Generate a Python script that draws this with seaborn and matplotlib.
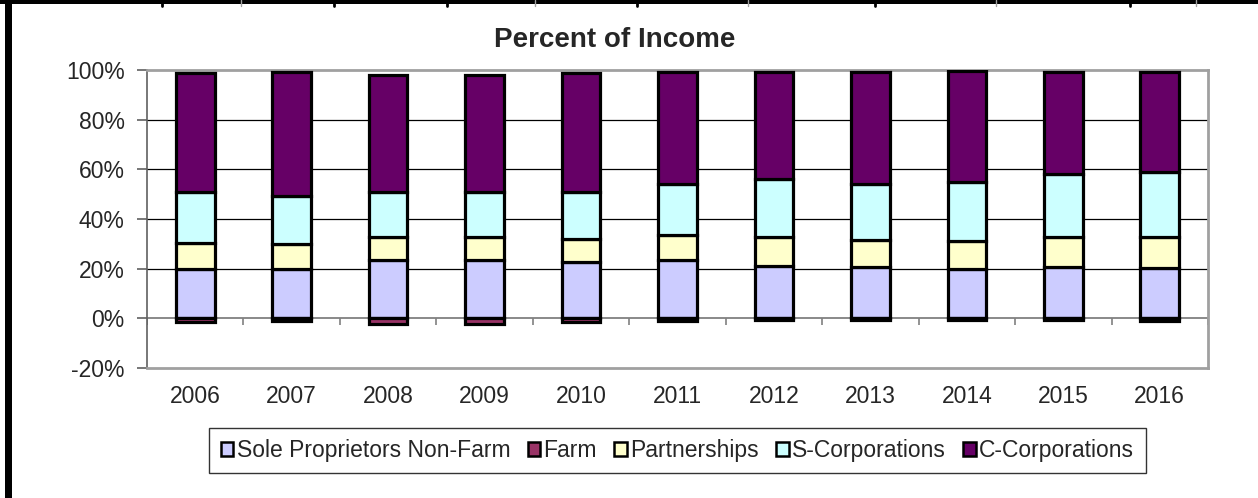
import numpy as np
import pandas as pd
import seaborn as sns
import matplotlib
matplotlib.use("Agg")
import matplotlib.pyplot as plt
from matplotlib.patches import Rectangle
from matplotlib.lines import Line2D

# ---------------- data ----------------
years = ["2006", "2007", "2008", "2009", "2010", "2011", "2012", "2013", "2014", "2015", "2016"]
sole_prop = [20.0, 20.0, 23.3, 23.3, 22.5, 23.3, 21.0, 20.5, 19.7, 20.5, 20.1]
farm = [-1.3, -1.2, -2.1, -2.1, -1.4, -1.2, -0.7, -0.7, -0.6, -0.8, -0.9]
partnerships = [10.5, 10.1, 9.3, 9.3, 9.3, 10.1, 11.6, 10.9, 11.3, 12.1, 12.5]
s_corps = [20.4, 19.0, 18.1, 18.1, 18.9, 20.5, 23.4, 22.5, 23.7, 25.4, 26.5]
c_corps = [47.9, 50.0, 47.1, 47.1, 48.0, 45.1, 43.2, 45.3, 44.7, 41.2, 40.1]
series_names = ["Sole Proprietors Non-Farm", "Farm", "Partnerships", "S-Corporations", "C-Corporations"]
colors = ["#CCCCFF", "#993366", "#FFFFCC", "#CCFFFF", "#660066"]
y_ticks = [-20, 0, 20, 40, 60, 80, 100]
title = "Percent of Income"

# ---------------- style ----------------
sns.set_theme(style="white")
plt.rcParams["font.family"] = ["Liberation Sans", "DejaVu Sans"]

fig = plt.figure(figsize=(12.58, 4.98), dpi=100)
W, H = 1258, 498
ax = fig.add_axes([147 / W, 1 - 368 / H, (1208 - 147) / W, (368 - 70) / H])

df = pd.DataFrame({"year": years, "sole": sole_prop, "farm": farm,
                   "part": partnerships, "s": s_corps, "c": c_corps})
b_part = np.array(sole_prop)
b_s = b_part + np.array(partnerships)
b_c = b_s + np.array(s_corps)

layers = [("sole", np.zeros(len(years))), ("farm", np.zeros(len(years))),
          ("part", b_part), ("s", b_s), ("c", b_c)]
for (col, bottom), name, colr in zip(layers, series_names, colors):
    sns.barplot(data=df, x="year", y=col, bottom=bottom, color=colr,
                edgecolor="black", linewidth=2.3, width=0.4, ax=ax,
                label=name, zorder=3, saturation=1)
if ax.get_legend() is not None:
    ax.get_legend().remove()

ax.set_xlim(-0.5, len(years) - 0.5)
ax.set_ylim(-20, 100)
ax.set_yticks(y_ticks)
ax.set_yticklabels([f"{t}%" for t in y_ticks])
ax.set_xlabel("")
ax.set_ylabel("")

# gridlines
for t in [20, 40, 60, 80]:
    ax.axhline(t, color="black", lw=0.9, zorder=1)
ax.axhline(0, color="#808080", lw=1.3, zorder=2)
# category-boundary ticks on the zero axis
ax.vlines(np.arange(-0.5, len(years)), -2.8, 0, color="#808080", lw=1.2, zorder=2)

for side in ["top", "right", "bottom"]:
    ax.spines[side].set_color("#A0A0A0")
    ax.spines[side].set_linewidth(2.0)
ax.spines["left"].set_color("#606060")
ax.spines["left"].set_linewidth(1.2)

ax.tick_params(axis="y", direction="out", length=7, width=1.2, color="#606060",
               labelsize=16.5, pad=9, left=True)
ax.tick_params(axis="x", length=0, labelsize=16.5, pad=12)

# legend
h, l = ax.get_legend_handles_labels()
order = [l.index(n) for n in series_names]
leg = fig.legend([h[i] for i in order], [l[i] for i in order],
                 loc="center", bbox_to_anchor=(677.5 / W, 1 - 450.5 / H),
                 ncol=5, fontsize=16.5, frameon=True, fancybox=False,
                 edgecolor="black", handlelength=0.55, handleheight=0.55,
                 handletextpad=0.15, columnspacing=0.75, borderpad=0.5)
leg.get_frame().set_linewidth(1.0)
for p in leg.get_patches():
    p.set_linewidth(1.8)

fig.text(615 / W, 1 - 47 / H, title, ha="center", va="baseline",
         fontsize=20, fontweight="bold")

# sheet frame decorations
fig.add_artist(Rectangle((5 / W, 0), 7 / W, 1, transform=fig.transFigure,
                         color="black", lw=0))
fig.add_artist(Rectangle((0, 1 - 4 / H), 1, 4 / H, transform=fig.transFigure,
                         color="black", lw=0))
for xp in [162, 334, 447, 637, 875, 1130]:
    fig.add_artist(Line2D([xp / W, xp / W], [1, 1 - 6 / H], transform=fig.transFigure,
                          color="black", lw=2))
for xp in [241, 535, 748, 996, 1196]:
    fig.add_artist(Line2D([xp / W, xp / W], [1, 1 - 6 / H], transform=fig.transFigure,
                          color="#A0A0A0", lw=1))

fig.savefig("out.png", dpi=100)
